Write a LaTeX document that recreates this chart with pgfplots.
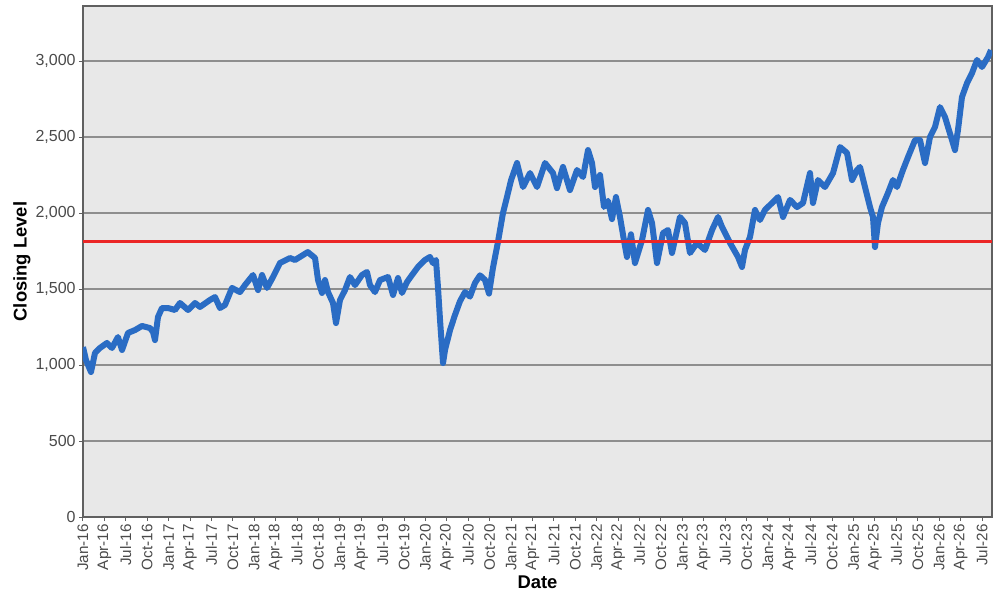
\documentclass[border=0pt]{standalone}
\usepackage{fontspec}
\setmainfont{Liberation Sans}
\usepackage{pgfplots}
\pgfplotsset{compat=1.18}
\definecolor{bgc}{HTML}{E8E8E8}
\definecolor{linec}{RGB}{42,108,196}
\definecolor{redc}{RGB}{235,38,38}
\definecolor{gridc}{HTML}{8E8E8E}
\definecolor{axc}{HTML}{606060}
\definecolor{tickc}{HTML}{4A4A4A}
\begin{document}
\begin{tikzpicture}
\begin{axis}[
  scale only axis,
  width=454.5pt, height=255.5pt,
  xmin=0, xmax=127.4,
  ymin=0, ymax=3362,
  axis background/.style={fill=bgc},
  axis line style={axc, line width=0.6pt},
  xtick pos=bottom, ytick pos=left,
  ymajorgrids, grid style={gridc, line width=0.55pt},
  xtick={0,3,...,126},
  xticklabels={Jan-16,Apr-16,Jul-16,Oct-16,Jan-17,Apr-17,Jul-17,Oct-17,Jan-18,Apr-18,Jul-18,Oct-18,Jan-19,Apr-19,Jul-19,Oct-19,Jan-20,Apr-20,Jul-20,Oct-20,Jan-21,Apr-21,Jul-21,Oct-21,Jan-22,Apr-22,Jul-22,Oct-22,Jan-23,Apr-23,Jul-23,Oct-23,Jan-24,Apr-24,Jul-24,Oct-24,Jan-25,Apr-25,Jul-25,Oct-25,Jan-26,Apr-26,Jul-26},
  ytick={0,500,...,3000},
  /pgf/number format/.cd, 1000 sep={,}, assume math mode=true, /pgfplots/.cd,
  tick align=outside,
  major tick length=2pt,
  tick style={axc, line width=0.5pt},
  x tick label style={rotate=90, anchor=east, font=\fontsize{7.6pt}{8pt}\selectfont, text=tickc, inner sep=1.5pt},
  y tick label style={font=\fontsize{8pt}{9pt}\selectfont, text=tickc, inner sep=1.5pt},
  ylabel={Closing Level},
  xlabel={Date},
  every axis y label/.style={at={(axis description cs:-0.0671,0.5)}, rotate=90, anchor=center, font=\fontsize{9.2pt}{10pt}\selectfont\bfseries},
  every axis x label/.style={at={(axis description cs:0.5,-0.127)}, anchor=center, font=\fontsize{9.2pt}{10pt}\selectfont\bfseries},
]
\addplot[linec, line width=3pt, line join=round] coordinates {
(0,1118) (0.42,1033) (1.12,954) (1.68,1079) (2.38,1112) (3.36,1145) (4.06,1112)
(4.9,1184) (5.47,1099) (6.31,1211) (7.29,1230) (8.27,1257) (9.39,1243) (9.81,1217)
(10.09,1164) (10.51,1316) (11.07,1375) (11.91,1375) (12.89,1362) (13.59,1408)
(14.72,1362) (15.7,1408) (16.4,1382) (17.8,1428) (18.5,1447) (19.2,1375) (19.9,1395)
(20.88,1507) (22.0,1480) (22.7,1526) (23.83,1592) (24.53,1493) (25.09,1592)
(25.79,1507) (26.63,1579) (27.61,1671) (29.01,1704) (29.71,1691) (30.41,1711)
(31.5,1743) (32.52,1704) (32.94,1559) (33.5,1474) (33.92,1559) (34.34,1480)
(35.04,1408) (35.46,1276) (36.02,1428) (36.72,1493) (37.42,1579) (38.12,1526)
(39.1,1592) (39.8,1612) (40.22,1526) (40.92,1480) (41.63,1559) (42.75,1579)
(43.45,1461) (44.15,1572) (44.71,1474) (45.41,1546) (46.11,1592) (46.95,1645)
(47.93,1691) (48.63,1711) (49.05,1671) (49.47,1691) (49.75,1513) (50.04,1296)
(50.46,1013) (50.74,1099) (51.44,1230) (52.14,1330) (52.84,1420) (53.54,1480)
(54.24,1450) (54.94,1540) (55.64,1590) (56.34,1560) (56.9,1470) (57.46,1640)
(58.16,1810) (58.86,2000) (59.42,2105) (60.0,2217) (60.83,2329) (61.67,2171)
(62.65,2263) (63.63,2171) (64.75,2329) (65.87,2263) (66.43,2164) (67.27,2303)
(68.25,2151) (69.24,2283) (70.08,2237) (70.78,2414) (71.34,2329) (71.76,2171)
(72.46,2250) (73.02,2040) (73.58,2080) (74.14,1960) (74.7,2105) (75.26,1974)
(75.82,1820) (76.24,1711) (76.8,1860) (77.36,1671) (78.35,1822) (79.19,2020)
(79.75,1934) (80.45,1671) (81.29,1868) (81.99,1888) (82.55,1737) (83.67,1974)
(84.37,1934) (85.07,1737) (86.05,1803) (87.17,1757) (88.16,1888) (89.0,1974)
(89.56,1908) (90.68,1803) (91.8,1711) (92.36,1645) (92.78,1757) (93.48,1842)
(94.18,2020) (94.88,1954) (95.58,2020) (96.57,2066) (97.41,2105) (98.11,1974)
(99.09,2086) (100.07,2039) (100.91,2066) (101.89,2263) (102.31,2066) (103.01,2217)
(103.99,2171) (105.12,2263) (106.1,2434) (107.08,2395) (107.78,2217) (108.48,2283)
(108.9,2303) (109.6,2171) (110.3,2039) (110.72,1974) (111.0,1776) (111.42,1934)
(111.98,2039) (112.82,2132) (113.52,2217) (114.08,2171) (114.92,2283) (115.63,2368)
(116.61,2480) (117.31,2480) (118.01,2329) (118.71,2500) (119.41,2566) (120.11,2697)
(120.81,2632) (121.23,2566) (121.79,2480) (122.21,2414) (122.63,2546) (123.19,2763)
(123.9,2855) (124.6,2921) (125.3,3007) (126.0,2961) (126.84,3026) (127.26,3072)
};
\addplot[redc, line width=1.5pt] coordinates {(0,1810) (127.4,1810)};
\end{axis}
\pgfresetboundingbox
\path ([shift={(-41.5pt,-41.5pt)}]current axis.south west) rectangle ([shift={(4pt,3pt)}]current axis.north east);
\end{tikzpicture}
\end{document}
